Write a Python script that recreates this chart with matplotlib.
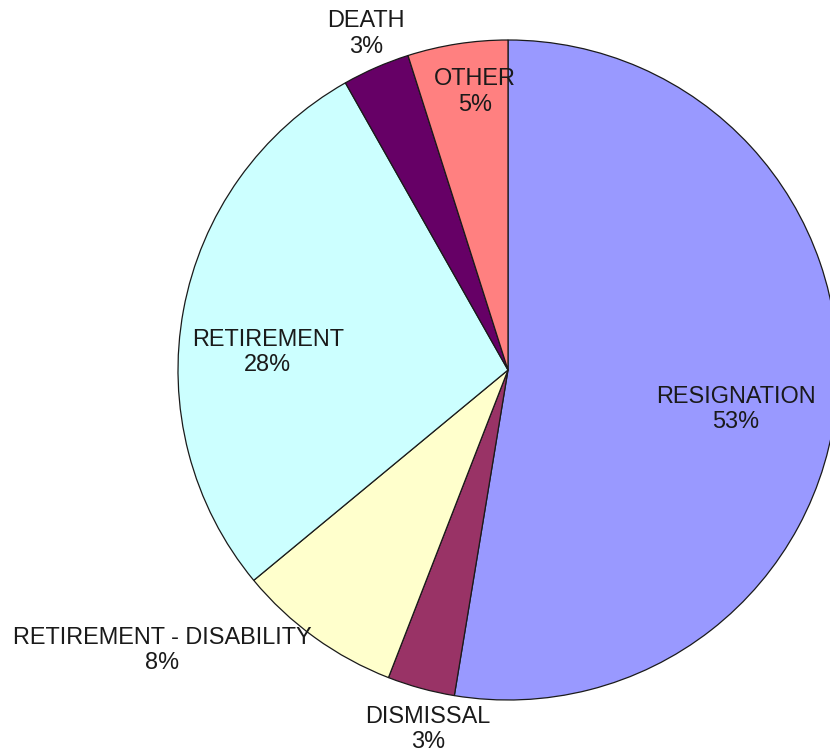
import numpy as np
import matplotlib
matplotlib.use("Agg")
import matplotlib.pyplot as plt

categories = ["RESIGNATION", "DISMISSAL", "RETIREMENT - DISABILITY", "RETIREMENT", "DEATH", "OTHER"]
values = [52.6, 3.3, 8.1, 27.8, 3.3, 4.9]
colors = ["#9999FF", "#993366", "#FFFFCC", "#CCFFFF", "#660066", "#FF8080"]

# label layout: (fraction of radius, clockwise angle tweak in degrees, ha, va)
label_layout = [
    (0.70, 5.1, "center", "center"),
    (1.043, -1.9, "center", "top"),
    (1.036, -0.8, "right", "center"),
    (0.73, -6.1, "center", "center"),
    (1.04, -0.9, "center", "bottom"),
    (0.85, 2.1, "center", "center"),
]

plt.rcParams["font.family"] = ["Liberation Sans", "DejaVu Sans"]

W, H = 830, 755
fig = plt.figure(figsize=(W / 100, H / 100), dpi=100)
ax = fig.add_axes([0, 0, 1, 1])
cx, cy, R = 508, H - 370, 330

wedges, _ = ax.pie(values, colors=colors, startangle=90, counterclock=False,
                   center=(cx, cy), radius=R, frame=False,
                   wedgeprops=dict(edgecolor="#1a1a1a", linewidth=0.9))

for w, name, v, (frac, dcw, ha, va) in zip(wedges, categories, values, label_layout):
    mid_math = (w.theta1 + w.theta2) / 2.0
    ang = np.deg2rad(mid_math - dcw)
    x = cx + R * frac * np.cos(ang)
    y = cy + R * frac * np.sin(ang)
    ax.text(x, y, f"{name}\n{round(v):d}%", ha=ha, va=va, multialignment="center",
            fontsize=16.9, color="#1a1a1a", linespacing=1.12)

ax.set_xlim(0, W)
ax.set_ylim(0, H)
ax.set_aspect("equal")
ax.axis("off")
fig.savefig("out.png", dpi=100, facecolor="white")
